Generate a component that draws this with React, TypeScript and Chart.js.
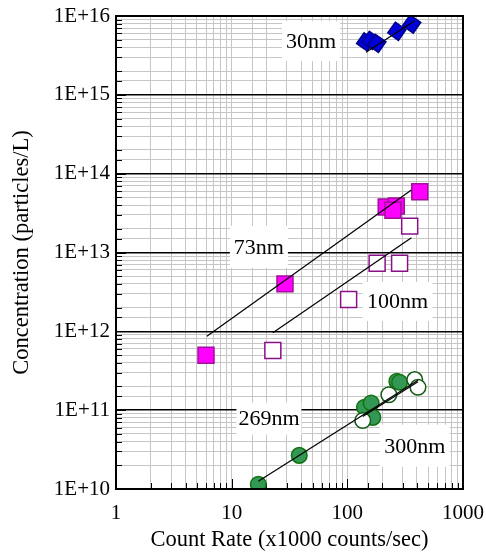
import React, { useEffect, useRef } from 'react';
import { Chart, registerables } from 'chart.js';
Chart.register(...registerables);

// 30 nm (blue diamonds)
const x30 = [144, 160, 180, 268, 360];
const y30 = [4.7e15, 4.9e15, 4.5e15, 6.4e15, 7.9e15];
const fit30x = [145, 383];
const fit30y = [3.46e15, 8.7e15];

// 73 nm (magenta filled squares)
const x73 = [6.0, 28.9, 217, 265, 248, 423];
const y73 = [4.97e11, 4.0e12, 3.78e13, 3.9e13, 3.43e13, 5.9e13];
const fit73x = [6.1, 358];
const fit73y = [8.67e11, 6.2e13];

// 100 nm (open squares)
const x100 = [22.7, 181, 283, 346, 102.6];
const y100 = [5.7e11, 7.3e12, 7.3e12, 2.16e13, 2.54e12];
const fit100x = [22.7, 358];
const fit100y = [9.57e11, 1.54e13];

// 269 nm (green filled circles)
const x269 = [17.0, 38.4, 140.6, 160.7, 166, 268, 283];
const y269 = [1.15e10, 2.67e10, 1.09e11, 1.23e11, 8.1e10, 2.32e11, 2.26e11];
const fit269x = [17.0, 408];
const fit269y = [1.25e10, 2.39e11];

// 300 nm (open circles)
const x300 = [135.9, 228.7, 382.6, 408];
const y300 = [7.4e10, 1.57e11, 2.44e11, 1.95e11];
const fit300x = [135.9, 408];
const fit300y = [8.3e10, 2.3e11];

// annotation labels (anchored in data space)
const labelText = ['30nm', '73nm', '100nm', '269nm', '300nm'];
const labelX = [48.5, 17.2, 272, 21.0, 383];
const labelY = [4.8e15, 1.18e13, 2.39e12, 7.8e10, 3.54e10];
const labelW = [58, 58, 70, 65, 70];
const labelH = [40, 42, 39, 32, 42];

const pts = (xs: number[], ys: number[]) => xs.map((x, i) => ({ x, y: ys[i] }));
const isDecade = (v: number) => {
  const e = Math.log10(v);
  return Math.abs(e - Math.round(e)) < 1e-9;
};

const FONT = 'Liberation Serif, Times New Roman, serif';

const framePlugin = {
  id: 'frame',
  beforeDatasetsDraw(chart: any) {
    const { ctx, chartArea: a, scales } = chart;
    ctx.save();
    // inward ticks on left and bottom
    ctx.strokeStyle = '#000';
    ctx.lineWidth = 1;
    scales.y.ticks.forEach((t: any) => {
      const py = Math.round(scales.y.getPixelForValue(t.value)) + 0.5;
      const len = isDecade(t.value) ? 10 : 6;
      ctx.beginPath();
      ctx.moveTo(a.left, py);
      ctx.lineTo(a.left + len, py);
      ctx.stroke();
    });
    scales.x.ticks.forEach((t: any) => {
      const px = Math.round(scales.x.getPixelForValue(t.value)) + 0.5;
      const len = isDecade(t.value) ? 10 : 6;
      ctx.beginPath();
      ctx.moveTo(px, a.bottom);
      ctx.lineTo(px, a.bottom - len);
      ctx.stroke();
    });
    // label boxes
    ctx.font = `22px ${FONT}`;
    ctx.textAlign = 'center';
    ctx.textBaseline = 'middle';
    labelText.forEach((txt, i) => {
      const cx = scales.x.getPixelForValue(labelX[i]);
      const cy = scales.y.getPixelForValue(labelY[i]);
      ctx.fillStyle = '#fff';
      ctx.fillRect(cx - labelW[i] / 2, cy - labelH[i] / 2, labelW[i], labelH[i]);
      ctx.fillStyle = '#000';
      ctx.fillText(txt, cx, cy + 1);
    });
    ctx.restore();
  },
  afterDatasetsDraw(chart: any) {
    const { ctx, chartArea: a } = chart;
    ctx.save();
    ctx.strokeStyle = '#000';
    ctx.lineWidth = 2;
    ctx.strokeRect(a.left, a.top, a.right - a.left, a.bottom - a.top);
    ctx.restore();
  },
};

export default function App() {
  const ref = useRef<HTMLCanvasElement>(null);
  useEffect(() => {
    if (!ref.current) return;
    const lineDs = (xs: number[], ys: number[]) => ({
      type: 'line' as const,
      data: pts(xs, ys),
      borderColor: '#000',
      borderWidth: 1.2,
      pointRadius: 0,
      showLine: true,
      fill: false,
    });
    const chart = new Chart(ref.current, {
      type: 'scatter',
      data: {
        datasets: [
          lineDs(fit30x, fit30y),
          lineDs(fit73x, fit73y),
          lineDs(fit100x, fit100y),
          lineDs(fit269x, fit269y),
          lineDs(fit300x, fit300y),
          {
            data: pts(x30, y30),
            pointStyle: 'rect',
            rotation: 35,
            pointRadius: 9.2,
            backgroundColor: '#0000d8',
            borderColor: '#00008a',
            borderWidth: 1.5,
          },
          {
            data: pts(x73, y73),
            pointStyle: 'rect',
            pointRadius: 11.3,
            backgroundColor: '#ff00ff',
            borderColor: '#a0109a',
            borderWidth: 1.5,
          },
          {
            data: pts(x100, y100),
            pointStyle: 'rect',
            pointRadius: 11.3,
            backgroundColor: '#ffffff',
            borderColor: '#8a1088',
            borderWidth: 1.5,
          },
          {
            data: pts(x300, y300),
            pointStyle: 'circle',
            pointRadius: 7.8,
            backgroundColor: '#ffffff',
            borderColor: '#145a14',
            borderWidth: 1.5,
          },
          {
            data: pts(x269, y269),
            pointStyle: 'circle',
            pointRadius: 7.8,
            backgroundColor: '#349855',
            borderColor: '#137313',
            borderWidth: 1.5,
          },
        ],
      },
      options: {
        animation: false,
        responsive: true,
        maintainAspectRatio: false,
        layout: { padding: { left: 0, right: 23, top: 16, bottom: 0 } },
        plugins: { legend: { display: false }, tooltip: { enabled: false } },
        scales: {
          x: {
            type: 'logarithmic',
            min: 1,
            max: 1000,
            afterFit: (s: any) => { s.height = 65; s.paddingLeft = 0; s.paddingRight = 0; },
            border: { display: false },
            grid: {
              drawTicks: false,
              color: '#c6c6c6',
              lineWidth: 1,
            },
            ticks: {
              autoSkip: false,
              maxRotation: 0,
              padding: 12,
              color: '#000',
              font: { family: FONT, size: 21 },
              callback: (v: any) => (isDecade(Number(v)) ? String(Number(v)) : ''),
            },
            title: {
              display: true,
              text: 'Count Rate (x1000 counts/sec)',
              color: '#000',
              font: { family: FONT, size: 22.5 },
              padding: { top: 0, bottom: 0 },
            },
          },
          y: {
            type: 'logarithmic',
            min: 1e10,
            max: 1e16,
            afterFit: (s: any) => { s.width = 116; s.paddingTop = 0; s.paddingBottom = 0; },
            border: { display: false },
            grid: {
              drawTicks: false,
              color: (c: any) => (c.tick && isDecade(c.tick.value) ? '#000' : '#c6c6c6'),
              lineWidth: (c: any) => (c.tick && isDecade(c.tick.value) ? 1.5 : 1),
            },
            ticks: {
              autoSkip: false,
              padding: 6,
              color: '#000',
              font: { family: FONT, size: 21 },
              callback: (v: any) => {
                const n = Number(v);
                return isDecade(n) ? `1E+${Math.round(Math.log10(n))}` : '';
              },
            },
            title: {
              display: true,
              text: 'Concentration (particles/L)',
              color: '#000',
              font: { family: FONT, size: 22.5 },
              padding: { top: 9, bottom: 0 },
            },
          },
        },
      },
      plugins: [framePlugin],
    });
    return () => chart.destroy();
  }, []);
  return (
    <div style={{ position: 'fixed', left: 0, top: 0, width: 486, height: 554, background: '#fff' }}>
      <canvas ref={ref} />
    </div>
  );
}
